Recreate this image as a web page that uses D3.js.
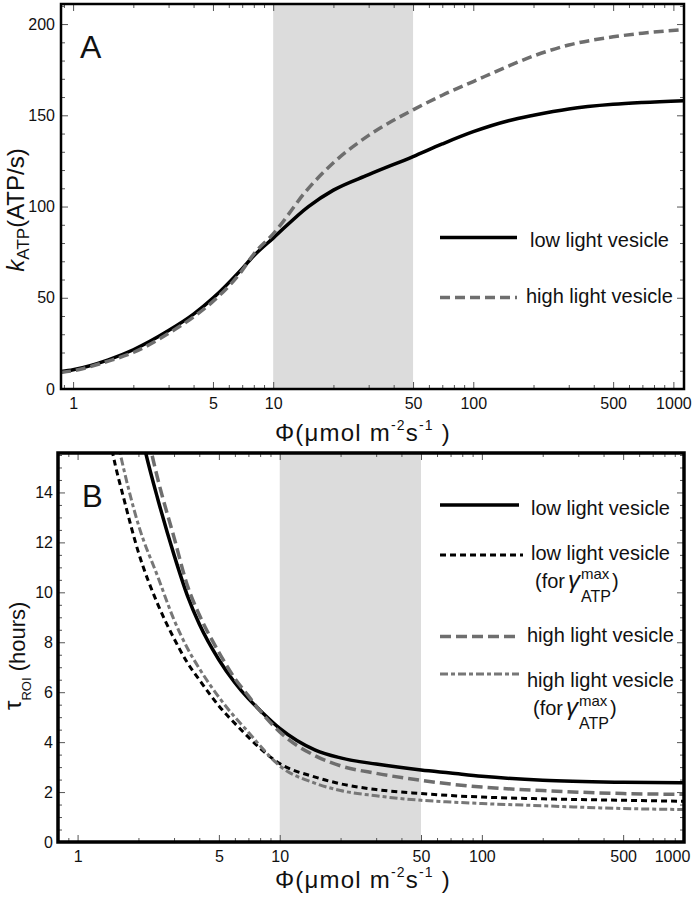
<!DOCTYPE html>
<html><head><meta charset="utf-8">
<script src="https://cdn.jsdelivr.net/npm/d3@7"></script>
<style>
body{margin:0;background:#fff}
svg{font-family:"Liberation Sans",Arial,Helvetica,sans-serif}
</style></head>
<body><svg id="c" width="694" height="900"></svg>
<script>
// ---------- DATA ----------
// Panel A: k_ATP (ATP/s) vs photon flux
const phiA   = [0.87, 1, 1.5, 2, 3, 4, 5, 7, 8, 10, 15, 20, 30, 50, 70, 100, 150, 200, 300, 500, 700, 1130];
const kLow   = [9.6, 10.6, 16, 21.5, 32, 41, 49.8, 66, 73, 82.7, 100, 109, 117.5, 127.4, 134.3, 141, 147, 150, 153.5, 156, 157, 158];
const kHigh  = [9.1, 10, 15.3, 20, 30.5, 39.5, 48, 65, 74, 85, 110, 124, 139, 153, 161, 168.5, 177, 182.5, 188.5, 193, 195, 197];

// Panel B: tau_ROI (hours) vs photon flux
const phiLowB     = [2.1, 2.17, 2.5, 3, 3.5, 4, 5, 6, 7, 8, 10, 15, 20, 30, 50, 70, 100, 200, 500, 1000];
const tauLow      = [16.1, 15.6, 13.7, 11.5, 9.85, 8.73, 7.3, 6.38, 5.74, 5.27, 4.55, 3.68, 3.37, 3.12, 2.88, 2.76, 2.63, 2.47, 2.39, 2.37];
const phiHighB    = [2.25, 2.32, 2.5, 3, 3.5, 4, 5, 6, 7, 8, 10, 15, 20, 30, 50, 70, 100, 200, 500, 1000];
const tauHigh     = [16.1, 15.6, 14.5, 12.2, 10.25, 9.1, 7.6, 6.55, 5.85, 5.25, 4.41, 3.45, 3.05, 2.75, 2.47, 2.32, 2.2, 2.06, 1.94, 1.91];
const phiLowMaxB  = [1.45, 1.49, 1.7, 2, 2.5, 3, 3.5, 4, 5, 6, 7, 8, 10, 15, 20, 30, 50, 70, 100, 200, 500, 1000];
const tauLowMax   = [16.1, 15.6, 13.7, 11.6, 9.5, 8.15, 7.17, 6.5, 5.45, 4.75, 4.2, 3.75, 3.14, 2.6, 2.33, 2.1, 1.94, 1.86, 1.8, 1.73, 1.67, 1.63];
const phiHighMaxB = [1.57, 1.62, 2, 2.5, 3, 3.5, 4, 5, 6, 7, 8, 10, 15, 20, 30, 50, 70, 100, 200, 500, 1000];
const tauHighMax  = [16.1, 15.6, 12.7, 10.6, 8.9, 7.75, 6.95, 5.8, 5.0, 4.4, 3.85, 3.05, 2.35, 2.06, 1.85, 1.67, 1.6, 1.54, 1.45, 1.34, 1.30];

const shadeRange   = [10, 50];
const xTickLabels  = [1, 5, 10, 50, 100, 500, 1000];
const yTicksA      = [0, 50, 100, 150, 200];
const yTicksB      = [0, 2, 4, 6, 8, 10, 12, 14];
const legendA      = ["low light vesicle", "high light vesicle"];
const legendB      = ["low light vesicle", "low light vesicle", "high light vesicle", "high light vesicle"];

// ---------- DRAW ----------
const svg = d3.select("#c");
const defs = svg.append("defs");

function minorLog(domain) {
  const out = [];
  for (let k = -1; k <= 3; k++) for (let d = 1; d <= 9; d++) {
    const v = +(d * Math.pow(10, k)).toPrecision(3);
    if (v >= domain[0] && v <= domain[1] && !xTickLabels.includes(v)) out.push(v);
  }
  return out;
}
function range(a, b, s) { const o = []; for (let v = a; v <= b + 1e-9; v += s) o.push(+v.toFixed(3)); return o; }

function panel(o) {
  const {x, y, L, R, T, B, id, frameW} = o;
  const g = svg.append("g");
  defs.append("clipPath").attr("id", id).append("rect")
    .attr("x", L).attr("y", T).attr("width", R - L).attr("height", B - T);
  g.append("rect").attr("x", x(shadeRange[0])).attr("y", T)
    .attr("width", x(shadeRange[1]) - x(shadeRange[0])).attr("height", B - T)
    .attr("fill", "#dcdcdc");

  const tickStyle = sel => { sel.select(".domain").remove(); sel.selectAll("line").attr("stroke", "#555").attr("stroke-width", 1); };
  const xMinor = minorLog(x.domain());
  g.append("g").attr("transform", `translate(0,${B})`)
    .call(d3.axisBottom(x).tickValues(xMinor).tickSizeInner(-4).tickSizeOuter(0).tickFormat(""))
    .call(tickStyle);
  const xb = g.append("g").attr("transform", `translate(0,${B})`)
    .call(d3.axisBottom(x).tickValues(xTickLabels).tickSizeInner(-7).tickSizeOuter(0).tickPadding(o.xPad).tickFormat(d3.format("d")))
    .call(tickStyle);
  xb.selectAll("text").attr("font-size", 16).attr("fill", "#111").attr("font-family", "Liberation Sans, Arial, sans-serif")
    .attr("dx", d => (d === 1000 ? o.dx1000 : 0));
  g.append("g").attr("transform", `translate(0,${T})`)
    .call(d3.axisTop(x).tickValues(xMinor).tickSizeInner(-4).tickSizeOuter(0).tickFormat("")).call(tickStyle);
  g.append("g").attr("transform", `translate(0,${T})`)
    .call(d3.axisTop(x).tickValues(xTickLabels).tickSizeInner(-7).tickSizeOuter(0).tickFormat("")).call(tickStyle);
  g.append("g").attr("transform", `translate(${L},0)`)
    .call(d3.axisLeft(y).tickValues(o.yMinor).tickSizeInner(-4).tickSizeOuter(0).tickFormat("")).call(tickStyle);
  const yl = g.append("g").attr("transform", `translate(${L},0)`)
    .call(d3.axisLeft(y).tickValues(o.yTicks).tickSizeInner(-7).tickSizeOuter(0).tickPadding(o.yPad).tickFormat(d3.format("d")))
    .call(tickStyle);
  yl.selectAll("text").attr("font-size", 16).attr("fill", "#111").attr("font-family", "Liberation Sans, Arial, sans-serif");
  g.append("g").attr("transform", `translate(${R},0)`)
    .call(d3.axisRight(y).tickValues(o.yMinor).tickSizeInner(-4).tickSizeOuter(0).tickFormat("")).call(tickStyle);
  g.append("g").attr("transform", `translate(${R},0)`)
    .call(d3.axisRight(y).tickValues(o.yTicks).tickSizeInner(-7).tickSizeOuter(0).tickFormat("")).call(tickStyle);

  const cg = g.append("g").attr("clip-path", `url(#${id})`);
  o.series.forEach(s => {
    const pts = s.xs.map((v, i) => [v, s.ys[i]]);
    const line = d3.line().x(d => x(d[0])).y(d => y(d[1])).curve(d3.curveMonotoneX);
    cg.append("path").attr("d", line(pts)).attr("fill", "none")
      .attr("stroke", s.color).attr("stroke-width", s.w)
      .attr("stroke-dasharray", s.dash || null);
  });

  g.append("rect").attr("x", L).attr("y", T).attr("width", R - L).attr("height", B - T)
    .attr("fill", "none").attr("stroke", "#000").attr("stroke-width", frameW);
  return g;
}

// Panel A
const LA = 61, RA = 684, TA = 4, BA = 389;
const xA = d3.scaleLog().domain([0.87, 1130]).range([LA, RA]);
const yA = d3.scaleLinear().domain([0, 211]).range([BA, TA]);
const sA = [
  {xs: phiA, ys: kLow,  color: "#000",    w: 3.5},
  {xs: phiA, ys: kHigh, color: "#6e6e6e", w: 3.5, dash: "10,5"}
];
panel({x: xA, y: yA, L: LA, R: RA, T: TA, B: BA, id: "clipA", frameW: 2.5,
  xPad: 9, yPad: 6, dx1000: 0, yTicks: yTicksA, yMinor: range(0, 210, 10).filter(v => !yTicksA.includes(v)), series: sA});

// Panel B
const LB = 58, RB = 684, TB = 453, BB = 842;
const xB = d3.scaleLog().domain([0.8, 1000]).range([LB, RB]);
const yB = d3.scaleLinear().domain([0, 15.58]).range([BB, TB]);
const sB = [
  {xs: phiLowB,     ys: tauLow,     color: "#000",    w: 3.5},
  {xs: phiLowMaxB,  ys: tauLowMax,  color: "#000",    w: 3,   dash: "6,4"},
  {xs: phiHighB,    ys: tauHigh,    color: "#6e6e6e", w: 3.5, dash: "11,5"},
  {xs: phiHighMaxB, ys: tauHighMax, color: "#777",    w: 3,   dash: "8,3,4,3"}
];
panel({x: xB, y: yB, L: LB, R: RB, T: TB, B: BB, id: "clipB", frameW: 3.5,
  xPad: 9, yPad: 5, dx1000: "-12", yTicks: yTicksB, yMinor: range(0, 15.5, 0.5).filter(v => !yTicksB.includes(v)), series: sB});

// ---------- LABELS ----------
const txt = (x, y, s, size, extra) => {
  const t = svg.append("text").attr("x", x).attr("y", y).attr("font-size", size).attr("fill", "#111").text(s);
  if (extra) extra(t);
  return t;
};
txt(80, 58, "A", 32);
txt(82, 507, "B", 31);

function xTitle(x0, yb) {
  const t = svg.append("text").attr("x", x0).attr("y", yb).attr("font-size", 24)
    .attr("letter-spacing", 1.2).attr("fill", "#111");
  t.append("tspan").text("Φ(μmol m");
  t.append("tspan").attr("font-size", 14).attr("dy", -11).text("-2");
  t.append("tspan").attr("dy", 11).text("s");
  t.append("tspan").attr("font-size", 14).attr("dy", -11).text("-1");
  t.append("tspan").attr("dy", 11).text(" )");
}
xTitle(275, 441);
xTitle(275, 888);

{
  const t = svg.append("text").attr("transform", "translate(24,210) rotate(-90)")
    .attr("text-anchor", "middle").attr("font-size", 24).attr("fill", "#111");
  t.append("tspan").attr("font-style", "italic").text("k");
  t.append("tspan").attr("font-size", 17).attr("dy", 5).text("ATP");
  t.append("tspan").attr("dy", -5).text("(ATP/s)");
}
{
  const t = svg.append("text").attr("transform", "translate(25,710) rotate(-90)")
    .attr("text-anchor", "start").attr("font-size", 22).attr("fill", "#111");
  t.append("tspan").attr("font-size", 24).attr("dy", -4).text("τ");
  t.append("tspan").attr("font-size", 13).attr("dy", 10).text("ROI");
  t.append("tspan").attr("dy", -6).text(" (hours)");
}

function legLine(x1, x2, yy, s) {
  svg.append("line").attr("x1", x1).attr("x2", x2).attr("y1", yy).attr("y2", yy)
    .attr("stroke", s.color).attr("stroke-width", s.w).attr("stroke-dasharray", s.dash || null);
}
legLine(440, 517, 237.5, sA[0]); txt(530, 247, legendA[0], 20);
legLine(440, 517, 297.5, sA[1]); txt(526, 303, legendA[1], 20);

legLine(440, 519, 505, sB[0]); txt(531, 515, legendB[0], 20);
legLine(440, 523, 555, sB[1]); txt(531, 559.5, legendB[1], 20);
function ymaxLabel(x0, yb) {
  const a = txt(x0, yb, "(for", 20);
  const ax = x0 + a.node().getComputedTextLength() + 3;
  const gm = txt(ax, yb, "γ", 24, t => t.attr("font-style", "italic"));
  const mx = ax + gm.node().getComputedTextLength() + 1;
  const m = txt(mx, yb - 9, "max", 15);
  const s = txt(mx, yb + 14, "ATP", 16);
  const px = mx + Math.max(m.node().getComputedTextLength(), s.node().getComputedTextLength()) + 1;
  txt(px, yb, ")", 20);
}
ymaxLabel(535, 588);
legLine(440, 519, 636.5, sB[2]); txt(527, 642, legendB[2], 20);
legLine(440, 519, 674, sB[3]); txt(527, 687, legendB[3], 20);
ymaxLabel(533, 715);
</script>
</body></html>
